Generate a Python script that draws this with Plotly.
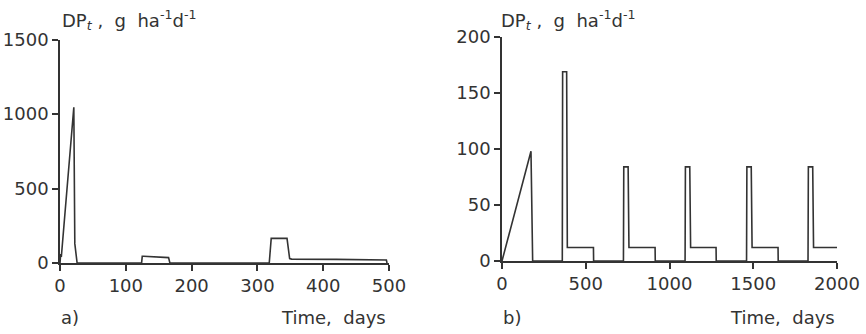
import plotly.graph_objects as go

# Panel a) data (days, g ha-1 d-1)
time_a = [0, 1, 2, 21, 22.5, 26, 124, 125, 127, 165, 167, 318, 321, 345, 349, 352, 420, 496, 497]
dp_a = [0, 60, 40, 1045, 130, 0, 0, 45, 45, 36, 0, 0, 165, 165, 30, 26, 24, 20, 0]

# Panel b) data (days, g ha-1 d-1)
time_b = [0, 173, 183, 360, 362, 386, 390, 546, 547,
          725, 727, 753, 758, 914, 915,
          1093, 1095, 1121, 1126, 1278, 1279,
          1460, 1462, 1488, 1493, 1648, 1649,
          1827, 1829, 1855, 1860, 2000]
dp_b = [0, 98, 0, 0, 169, 169, 12, 12, 0,
        0, 84, 84, 12, 12, 0,
        0, 84, 84, 12, 12, 0,
        0, 84, 84, 12, 12, 0,
        0, 84, 84, 12, 12]

xticks_a = [0, 100, 200, 300, 400, 500]
yticks_a = [0, 500, 1000, 1500]
xticks_b = [0, 500, 1000, 1500, 2000]
yticks_b = [0, 50, 100, 150, 200]

ink = "#333333"
font = dict(family="DejaVu Sans", size=18, color=ink)

fig = go.Figure()
fig.add_trace(go.Scatter(x=time_a, y=dp_a, mode="lines", xaxis="x", yaxis="y",
                         line=dict(color=ink, width=1.6), showlegend=False))
fig.add_trace(go.Scatter(x=time_b, y=dp_b, mode="lines", xaxis="x2", yaxis="y2",
                         line=dict(color=ink, width=1.6), showlegend=False))

ax_common = dict(showline=True, linecolor=ink, linewidth=1.5, ticks="outside",
                 ticklen=6, tickwidth=1.5, tickcolor=ink, showgrid=False,
                 zeroline=False, tickfont=font, automargin=False)

fig.update_layout(
    template="none",
    width=866, height=334, margin=dict(l=0, r=0, t=0, b=0, autoexpand=False),
    paper_bgcolor="white", plot_bgcolor="white",
    xaxis=dict(domain=[60/866, 389/866], range=[0, 500], tickvals=xticks_a,
               anchor="y", **ax_common),
    yaxis=dict(domain=[(334-263)/334, (334-39.5)/334], range=[0, 1500],
               tickvals=yticks_a, anchor="x", **ax_common),
    xaxis2=dict(domain=[502/866, 837/866], range=[0, 2000], tickvals=xticks_b,
                anchor="y2", **ax_common),
    yaxis2=dict(domain=[(334-261)/334, (334-37)/334], range=[0, 200],
                tickvals=yticks_b, anchor="x2", **ax_common),
)

title_txt = "DP<sub><i>t</i></sub> ,  g  ha<sup>-1</sup>d<sup>-1</sup>"
ann = [
    dict(x=60/866, y=(334-20)/334, text=title_txt, xanchor="left", yanchor="middle"),
    dict(x=499/866, y=(334-20)/334, text=title_txt, xanchor="left", yanchor="middle"),
    dict(x=59/866, y=(334-317)/334, text="a)", xanchor="left", yanchor="middle"),
    dict(x=388/866, y=(334-317)/334, text="Time,  days", xanchor="right", yanchor="middle"),
    dict(x=501/866, y=(334-317)/334, text="b)", xanchor="left", yanchor="middle"),
    dict(x=837/866, y=(334-317)/334, text="Time,  days", xanchor="right", yanchor="middle"),
]
for a in ann:
    fig.add_annotation(xref="paper", yref="paper", showarrow=False, font=font, **a)

fig.write_html("out.html")
